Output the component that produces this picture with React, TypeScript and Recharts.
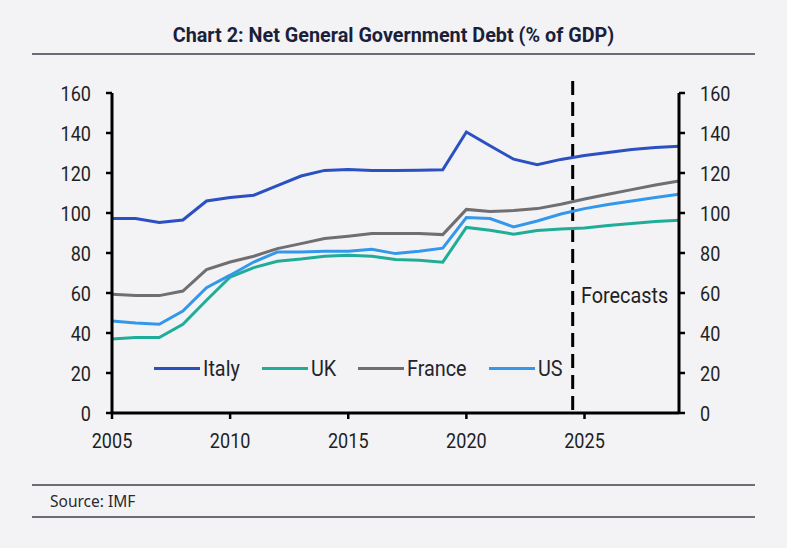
import React from 'react';
import { LineChart, Line, XAxis, YAxis, ReferenceLine } from 'recharts';

const years = [2005, 2006, 2007, 2008, 2009, 2010, 2011, 2012, 2013, 2014, 2015, 2016, 2017, 2018, 2019, 2020, 2021, 2022, 2023, 2024, 2025, 2026, 2027, 2028, 2029];
const italy = [97.2, 97.2, 95.2, 96.5, 106, 107.7, 108.9, 113.7, 118.5, 121.3, 121.8, 121.3, 121.2, 121.4, 121.6, 140.5, 133.6, 126.9, 124.2, 126.8, 128.7, 130.3, 131.7, 132.7, 133.4];
const uk = [37, 37.7, 37.7, 44.4, 56.4, 68, 72.7, 75.9, 77, 78.4, 78.9, 78.4, 76.7, 76.4, 75.4, 92.8, 91.4, 89.4, 91.2, 92, 92.5, 93.7, 94.7, 95.8, 96.4];
const france = [59.4, 58.7, 58.7, 61, 71.7, 75.5, 78.4, 82.2, 84.7, 87.2, 88.4, 89.7, 89.7, 89.7, 89.2, 101.8, 100.7, 101.2, 102.2, 104.4, 107, 109.4, 111.7, 114, 116];
const us = [46, 45, 44.4, 51, 62.7, 68.9, 75.5, 80.5, 80.5, 80.9, 80.9, 81.9, 79.7, 80.9, 82.4, 97.7, 97.2, 93, 96, 99.5, 102.2, 104.2, 106, 107.7, 109.4];

const xTicks = [2005, 2010, 2015, 2020, 2025];
const yTicks = [0, 20, 40, 60, 80, 100, 120, 140, 160];
const forecastStart = 2024.5;

const title = 'Chart 2: Net General Government Debt (% of GDP)';
const source = 'Source: IMF';
const forecastLabel = 'Forecasts';

const series = [
  { key: 'Italy', values: italy, color: '#2a50c2' },
  { key: 'UK', values: uk, color: '#1fad97' },
  { key: 'France', values: france, color: '#6f6f72' },
  { key: 'US', values: us, color: '#3398ec' },
];

const data = years.map((year, i) => {
  const row: Record<string, number> = { year };
  series.forEach((s) => {
    row[s.key] = s.values[i];
  });
  return row;
});

const FONT = "Roboto, 'Liberation Sans', sans-serif";
const SQUEEZE = 0.86;
const LABEL_SQUEEZE = 0.9;
const BG = '#f3f3f5';
const AXIS = '#000';
const LEGEND_SIZE = 22;

let measureCtx: CanvasRenderingContext2D | null = null;
function textWidth(text: string, font: string): number {
  if (typeof document === 'undefined') return text.length * 10;
  if (!measureCtx) measureCtx = document.createElement('canvas').getContext('2d');
  if (!measureCtx) return text.length * 10;
  measureCtx.font = font;
  return measureCtx.measureText(text).width;
}

function makeTick(anchor: 'start' | 'end' | 'middle', dy: string) {
  return (props: any) => {
    const { x, y, payload } = props;
    return (
      <g transform={`translate(${x},${y})`}>
        <text
          x={0}
          y={0}
          dy={dy}
          textAnchor={anchor}
          transform={`scale(${SQUEEZE},1)`}
          fontFamily={FONT}
          fontSize={21}
          fill="#1f1f24"
        >
          {payload.value}
        </text>
      </g>
    );
  };
}

const XTick = makeTick('middle', '0.71em');
const LeftTick = makeTick('end', '0.36em');
const RightTick = makeTick('start', '0.36em');

function Squeezed({ text, size }: { text: string; size: number }) {
  const w = textWidth(text, `${size}px Roboto`) * LABEL_SQUEEZE;
  return (
    <span style={{ display: 'inline-block', width: w, whiteSpace: 'nowrap', overflow: 'visible' }}>
      <span style={{ display: 'inline-block', transform: `scaleX(${LABEL_SQUEEZE})`, transformOrigin: 'left' }}>{text}</span>
    </span>
  );
}

export default function App() {
  return (
    <div style={{ position: 'absolute', left: 0, top: 0, width: 787, height: 548, background: BG, overflow: 'hidden' }}>
      <div
        style={{
          position: 'absolute',
          left: 0,
          top: 24,
          width: 787,
          textAlign: 'center',
          fontFamily: FONT,
          fontWeight: 700,
          fontSize: 19.8,
          color: '#1b1f3a',
          lineHeight: '24px',
          whiteSpace: 'nowrap',
        }}
      >
        {title}
      </div>
      <div style={{ position: 'absolute', left: 32, top: 53, width: 723, height: 1.5, background: '#6c6c78' }} />
      <div style={{ position: 'absolute', left: 0, top: 0 }}>
        <LineChart width={787} height={548} data={data} margin={{ top: 93, right: 48, left: 0, bottom: 95 }}>
          <XAxis
            dataKey="year"
            type="number"
            domain={[2005, 2029]}
            ticks={xTicks}
            allowDataOverflow
            height={40}
            tick={XTick}
            tickSize={6}
            tickMargin={14}
            axisLine={{ stroke: AXIS, strokeWidth: 3 }}
            tickLine={{ stroke: AXIS, strokeWidth: 2.5 }}
          />
          <YAxis
            yAxisId="left"
            orientation="left"
            domain={[0, 160]}
            ticks={yTicks}
            width={112}
            tick={LeftTick}
            tickSize={6}
            tickMargin={15}
            interval={0}
            axisLine={{ stroke: AXIS, strokeWidth: 3 }}
            tickLine={{ stroke: AXIS, strokeWidth: 2.5 }}
          />
          <YAxis
            yAxisId="right"
            orientation="right"
            domain={[0, 160]}
            ticks={yTicks}
            width={60}
            tick={RightTick}
            tickSize={6}
            tickMargin={15}
            interval={0}
            axisLine={{ stroke: AXIS, strokeWidth: 3 }}
            tickLine={{ stroke: AXIS, strokeWidth: 2.5 }}
          />
          <ReferenceLine
            yAxisId="left"
            segment={[
              { x: forecastStart, y: 166 },
              { x: forecastStart, y: 0 },
            ]}
            ifOverflow="visible"
            stroke={AXIS}
            strokeWidth={3}
            strokeDasharray="14 7"
          />
          <Line
            yAxisId="right"
            type="linear"
            dataKey="Italy"
            stroke="none"
            strokeOpacity={0}
            dot={false}
            activeDot={false}
            legendType="none"
            isAnimationActive={false}
          />
          {series.map((s) => (
            <Line
              key={s.key}
              yAxisId="left"
              type="linear"
              dataKey={s.key}
              stroke={s.color}
              strokeWidth={3}
              dot={false}
              activeDot={false}
              isAnimationActive={false}
            />
          ))}
        </LineChart>
      </div>
      <div
        style={{
          position: 'absolute',
          left: 154,
          top: 355,
          height: 26,
          display: 'flex',
          alignItems: 'center',
          fontFamily: FONT,
          fontSize: LEGEND_SIZE,
          color: '#24242c',
        }}
      >
        {series.map((s) => (
          <div key={s.key} style={{ display: 'flex', alignItems: 'center', marginRight: 22 }}>
            <div style={{ width: 46, height: 3, background: s.color, marginRight: 3 }} />
            <Squeezed text={s.key} size={LEGEND_SIZE} />
          </div>
        ))}
      </div>
      <div
        style={{
          position: 'absolute',
          left: 581,
          top: 282,
          fontFamily: FONT,
          fontSize: LEGEND_SIZE,
          color: '#1f1f24',
          lineHeight: '28px',
        }}
      >
        <Squeezed text={forecastLabel} size={LEGEND_SIZE} />
      </div>
      <div style={{ position: 'absolute', left: 32, top: 484, width: 723, height: 1.5, background: '#6c6c78' }} />
      <div
        style={{
          position: 'absolute',
          left: 50,
          top: 491,
          fontFamily: "'Noto Sans', sans-serif",
          fontSize: 15.5,
          color: '#2a2a30',
          lineHeight: '20px',
        }}
      >
        {source}
      </div>
      <div style={{ position: 'absolute', left: 32, top: 516, width: 723, height: 1.5, background: '#6c6c78' }} />
    </div>
  );
}
